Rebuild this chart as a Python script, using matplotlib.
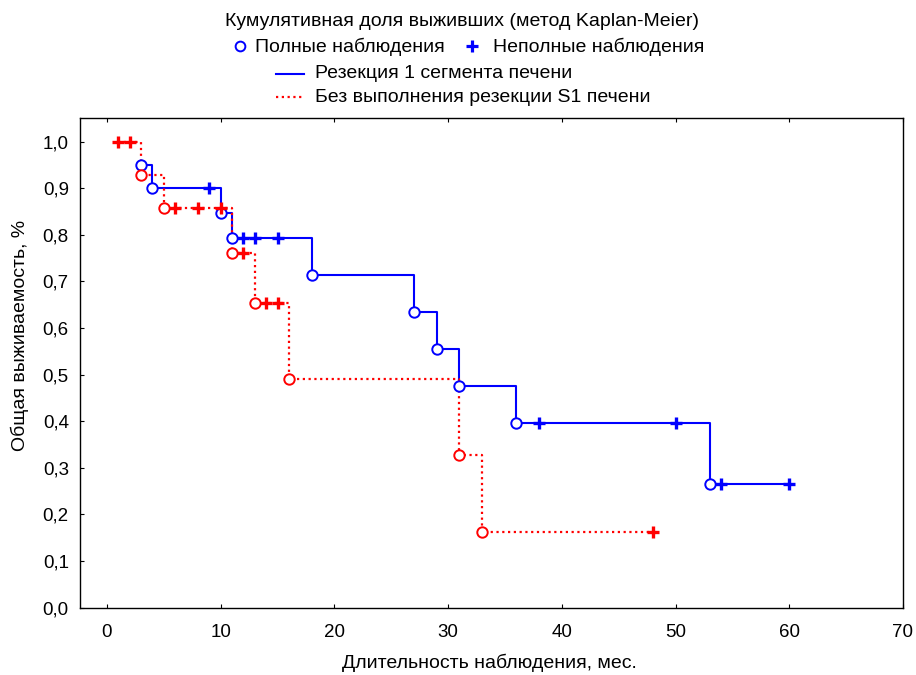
import matplotlib
matplotlib.use('Agg')
import matplotlib.pyplot as plt
from matplotlib.lines import Line2D

# group 1: resection of segment 1
res_times = [3, 4, 9, 10, 11, 12, 13, 15, 18, 27, 29, 31, 36, 38, 50, 53, 54, 60]
res_surv = [0.95, 0.90, 0.90, 0.847, 0.794, 0.794, 0.794, 0.794, 0.714,
            0.635, 0.556, 0.476, 0.397, 0.397, 0.397, 0.265, 0.265, 0.265]
res_event = [1, 1, 0, 1, 1, 0, 0, 0, 1, 1, 1, 1, 1, 0, 0, 1, 0, 0]

# group 2: no S1 resection
nores_times = [1, 2, 3, 5, 6, 8, 10, 11, 12, 13, 14, 15, 16, 31, 33, 48]
nores_surv = [1.0, 1.0, 0.929, 0.857, 0.857, 0.857, 0.857, 0.762, 0.762,
              0.653, 0.653, 0.653, 0.490, 0.327, 0.163, 0.163]
nores_event = [0, 0, 1, 1, 0, 0, 0, 1, 0, 1, 0, 0, 1, 1, 1, 0]

x_ticks = [0, 10, 20, 30, 40, 50, 60, 70]
y_ticks = [0.0, 0.1, 0.2, 0.3, 0.4, 0.5, 0.6, 0.7, 0.8, 0.9, 1.0]

title_text = 'Кумулятивная доля выживших (метод Kaplan-Meier)'
full_label = 'Полные наблюдения'
cens_label = 'Неполные наблюдения'
res_label = 'Резекция 1 сегмента печени'
nores_label = 'Без выполнения резекции S1 печени'

BLUE = '#0000ff'
RED = '#ff0000'
DOTS = (0, (1, 1.6))

plt.rcParams['font.family'] = ['Liberation Sans', 'DejaVu Sans']

fig = plt.figure(figsize=(9.16, 6.75), dpi=100)
ax = fig.add_axes([0.0873, 0.0997, 0.8985, 0.725])


def draw_curve(times, surv, event, color, ls):
    # step line
    ax.plot(times, surv, drawstyle='steps-post', color=color, linestyle=ls,
            linewidth=1.5 if ls == '-' else 1.6, zorder=2)
    # complete and censored observations
    ex = [t for t, e in zip(times, event) if e == 1]
    ey = [s for s, e in zip(surv, event) if e == 1]
    cx = [t for t, e in zip(times, event) if e == 0]
    cy = [s for s, e in zip(surv, event) if e == 0]
    ax.plot(ex, ey, 'o', markersize=7.5, markerfacecolor='white',
            markeredgecolor=color, markeredgewidth=1.4, zorder=3)
    ax.plot(cx, cy, '+', markersize=9, markeredgewidth=2.4, color=color, zorder=3)


draw_curve(res_times, res_surv, res_event, BLUE, '-')
draw_curve(nores_times, nores_surv, nores_event, RED, DOTS)

ax.set_xlim(-2.37, 70)
ax.set_ylim(0, 1.05)
ax.set_xticks(x_ticks)
ax.set_xticklabels([str(v) for v in x_ticks], fontsize=13.5)
ax.set_yticks(y_ticks)
ax.set_yticklabels([f'{v:.1f}'.replace('.', ',') for v in y_ticks], fontsize=13.5)
ax.tick_params(axis='x', direction='in', length=3, top=True, pad=12)
ax.tick_params(axis='y', direction='in', length=3, pad=8)
for sp in ax.spines.values():
    sp.set_linewidth(1.0)

ax.set_xlabel('Длительность наблюдения, мес.',
              family=['Liberation Sans Narrow', 'Liberation Sans'], fontsize=14)
ax.xaxis.label.set_va('center')
ax.xaxis.set_label_coords(0.498, -0.112)
ax.set_ylabel('Общая выживаемость, %', fontsize=14)
ax.yaxis.label.set_va('center')
ax.yaxis.set_label_coords(-0.073, 0.557)

# legend block drawn in pixel coordinates of the figure
W, H = 916, 675


def fx(px):
    return px / W


def fy(py):
    return 1 - py / H


fs = 14
fig.text(fx(462), fy(21), title_text, ha='center', va='center', fontsize=fs)
fig.add_artist(Line2D([fx(240)], [fy(46)], marker='o', markersize=7, markerfacecolor='white',
                      markeredgecolor=BLUE, markeredgewidth=1.4, transform=fig.transFigure))
fig.text(fx(255), fy(47), full_label, ha='left', va='center', fontsize=fs)
fig.add_artist(Line2D([fx(472)], [fy(46)], marker='+', markersize=8, markeredgewidth=2.3,
                      color=BLUE, transform=fig.transFigure))
fig.text(fx(493), fy(47), cens_label, ha='left', va='center', fontsize=fs)
fig.add_artist(Line2D([fx(276), fx(304)], [fy(74), fy(74)], color=BLUE, linewidth=1.5,
                      transform=fig.transFigure))
fig.text(fx(315), fy(74), res_label, ha='left', va='center', fontsize=fs)
fig.add_artist(Line2D([fx(276), fx(304)], [fy(97), fy(97)], color=RED, linewidth=1.6,
                      linestyle=DOTS, transform=fig.transFigure))
fig.text(fx(315), fy(97), nores_label, ha='left', va='center', fontsize=fs)

fig.savefig('out.png', dpi=100)
